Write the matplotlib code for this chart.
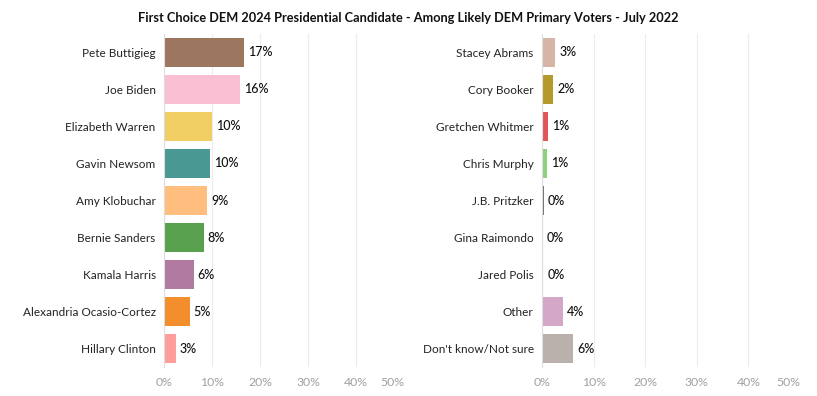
import matplotlib.pyplot as plt

# === Data ===
left_names = ["Pete Buttigieg", "Joe Biden", "Elizabeth Warren", "Gavin Newsom",
              "Amy Klobuchar", "Bernie Sanders", "Kamala Harris",
              "Alexandria Ocasio-Cortez", "Hillary Clinton"]
left_vals = [16.7, 15.8, 10.0, 9.6, 9.0, 8.3, 6.2, 5.4, 2.5]
left_labels = ["17%", "16%", "10%", "10%", "9%", "8%", "6%", "5%", "3%"]
left_colors = ["#9d7660", "#fabfd2", "#f1ce63", "#499894", "#ffbe7d",
               "#59a14f", "#b07aa1", "#f28e2b", "#ff9d9a"]

right_names = ["Stacey Abrams", "Cory Booker", "Gretchen Whitmer", "Chris Murphy",
               "J.B. Pritzker", "Gina Raimondo", "Jared Polis", "Other",
               "Don't know/Not sure"]
right_vals = [2.6, 2.2, 1.2, 1.0, 0.3, 0.1, 0.2, 4.1, 6.1]
right_labels = ["3%", "2%", "1%", "1%", "0%", "0%", "0%", "4%", "6%"]
right_colors = ["#d7b5a6", "#b6992d", "#e15759", "#8cd17d", "#79706e",
                "#86bcb6", "#d37295", "#d4a6c8", "#bab0ac"]

ticks = [0, 10, 20, 30, 40, 50]
tick_labels = ["0%", "10%", "20%", "30%", "40%", "50%"]

plt.rcParams['font.family'] = ['Lato', 'DejaVu Sans']

fig = plt.figure(figsize=(8.17, 3.96), dpi=100)
fig.text(0.5, 0.955, "First Choice DEM 2024 Presidential Candidate - Among Likely DEM Primary Voters - July 2022",
         ha='center', va='center', fontsize=9.2, fontweight='bold', color='#111111')

panels = [
    ([0.2007, 0.072, 0.2938, 0.843], left_names, left_vals, left_labels, left_colors),
    ([0.6634, 0.072, 0.3158, 0.843], right_names, right_vals, right_labels, right_colors),
]

for rect, names, vals, labels, colors in panels:
    ax = fig.add_axes(rect)
    y = list(range(len(names)))
    ax.barh(y, vals, height=0.78, color=colors)
    for yi, v, lab in zip(y, vals, labels):
        ax.text(v + 0.8, yi, lab, va='center', ha='left', fontsize=9,
                fontweight='medium', color='#111111')
    ax.set_xlim(0, 50)
    ax.set_ylim(len(names) - 0.5, -0.5)
    ax.set_yticks(y)
    ax.set_yticklabels(names, fontsize=8.5, color='#222222')
    ax.set_xticks(ticks)
    ax.set_xticklabels(tick_labels, fontsize=8.8, color='#a0a0a0')
    ax.get_xticklabels()[-1].set_ha('right')
    ax.tick_params(length=0, pad=6)
    ax.tick_params(axis='x', pad=7)
    ax.grid(axis='x', color='#ececec', linewidth=0.8)
    ax.set_axisbelow(True)
    for s in ['top', 'right', 'bottom']:
        ax.spines[s].set_visible(False)
    ax.spines['left'].set_color('#dddddd')

plt.savefig("out.png", dpi=100)
